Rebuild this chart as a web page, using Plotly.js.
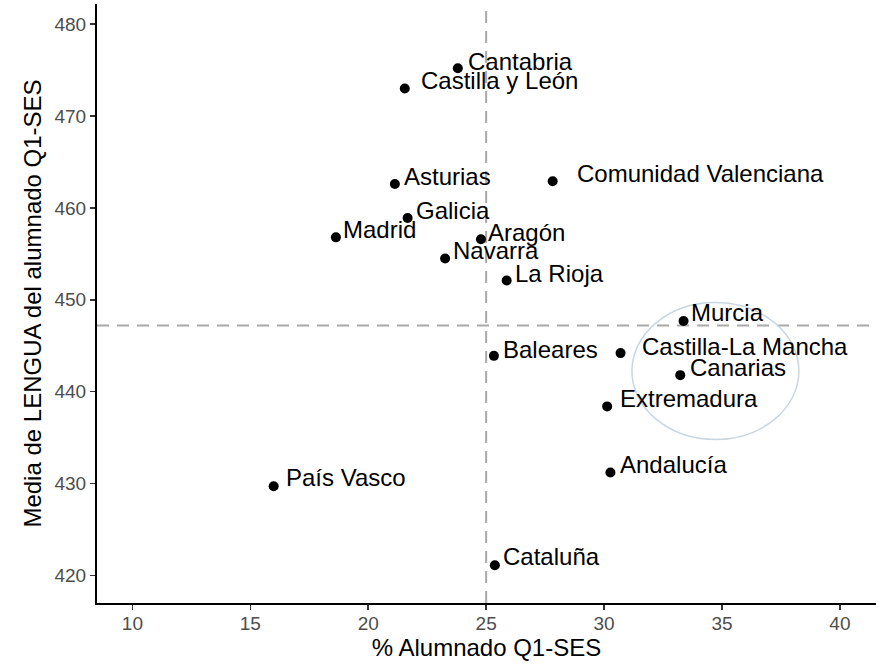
<!DOCTYPE html>
<html>
<head>
<meta charset="utf-8">
<script src="https://cdn.plot.ly/plotly-3.0.1.min.js"></script>
<style>
  html, body { margin: 0; padding: 0; background: #ffffff; }
  #chart { width: 882px; height: 668px; }
</style>
</head>
<body>
<div id="chart"></div>
<script>
// ---- data ----
const regions = ["Cantabria", "Castilla y León", "Asturias", "Comunidad Valenciana", "Galicia",
  "Madrid", "Aragón", "Navarra", "La Rioja", "Murcia", "Castilla-La Mancha", "Canarias",
  "Extremadura", "Andalucía", "Baleares", "País Vasco", "Cataluña"];
const pctQ1 = [23.80, 21.55, 21.13, 27.82, 21.67, 18.63, 24.78, 23.26, 25.87, 33.37, 30.70, 33.23,
  30.13, 30.27, 25.33, 15.99, 25.37];
const lenguaQ1 = [475.2, 473.0, 462.6, 462.9, 458.9, 456.8, 456.6, 454.5, 452.1, 447.7, 444.2, 441.8,
  438.4, 431.2, 443.9, 429.7, 421.1];
const meanPct = 25.0;
const meanLengua = 447.2;
const ellipseX = [31.18, 38.26];
const ellipseY = [434.8, 449.7];
const xTicks = [10, 15, 20, 25, 30, 35, 40];
const yTicks = [420, 430, 440, 450, 460, 470, 480];

// label offsets (pixels), styling only
const labelDx = [8, 14, 7, 22, 6, 5, 5, 6, 6, 5, 19, 8, 11, 8, 7, 10, 6];
const labelDy = [7, 8, 8, 8, 8, 8, 7, 8, 7, 8, 7, 8, 8, 8, 6, 9, 9];

const FONT = "Liberation Sans, Arial, Helvetica, sans-serif";

const trace = {
  type: "scatter",
  mode: "markers",
  x: pctQ1,
  y: lenguaQ1,
  marker: { color: "#000000", size: 10 },
  hoverinfo: "skip",
  showlegend: false
};

const annotations = regions.map((r, i) => ({
  x: pctQ1[i], y: lenguaQ1[i], xref: "x", yref: "y",
  text: r, showarrow: false, xanchor: "left", yanchor: "middle",
  xshift: labelDx[i], yshift: labelDy[i],
  font: { family: FONT, size: 24, color: "#000000" }
}));

const layout = {
  width: 882, height: 668,
  margin: { l: 97, r: 6, t: 4, b: 65 },
  paper_bgcolor: "#ffffff", plot_bgcolor: "#ffffff",
  showlegend: false,
  font: { family: FONT },
  xaxis: {
    range: [8.5, 41.53],
    tickvals: xTicks, ticktext: xTicks.map(String),
    showgrid: false, zeroline: false,
    showline: true, linecolor: "#000000", linewidth: 2,
    ticks: "outside", ticklen: 5, tickwidth: 1.5, tickcolor: "#333333",
    ticklabelstandoff: -3,
    tickfont: { family: FONT, size: 19, color: "#4d4d4d" },
    title: { text: "% Alumnado Q1-SES", font: { family: FONT, size: 24, color: "#000000" }, standoff: 6 },
    automargin: false
  },
  yaxis: {
    range: [417.0, 482.2],
    tickvals: yTicks, ticktext: yTicks.map(String),
    showgrid: false, zeroline: false,
    showline: true, linecolor: "#000000", linewidth: 2,
    ticks: "outside", ticklen: 5, tickwidth: 1.5, tickcolor: "#333333",
    tickfont: { family: FONT, size: 19, color: "#4d4d4d" },
    title: { text: "Media de LENGUA del alumnado Q1-SES", font: { family: FONT, size: 24, color: "#000000" }, standoff: 6 },
    automargin: false
  },
  shapes: [
    { type: "line", xref: "x", yref: "paper", x0: meanPct, x1: meanPct, y0: 0, y1: 1,
      line: { color: "#a9a9a9", width: 2, dash: "12px,8px" }, layer: "below" },
    { type: "line", xref: "paper", yref: "y", x0: 0, x1: 1, y0: meanLengua, y1: meanLengua,
      line: { color: "#a9a9a9", width: 2, dash: "12px,8px" }, layer: "below" },
    { type: "circle", xref: "x", yref: "y", x0: ellipseX[0], x1: ellipseX[1], y0: ellipseY[0], y1: ellipseY[1],
      line: { color: "#c8d6e2", width: 1.5 }, fillcolor: "rgba(0,0,0,0)", layer: "below" }
  ],
  annotations: annotations
};

Plotly.newPlot("chart", [trace], layout, { displayModeBar: false, staticPlot: true });
</script>
</body>
</html>
